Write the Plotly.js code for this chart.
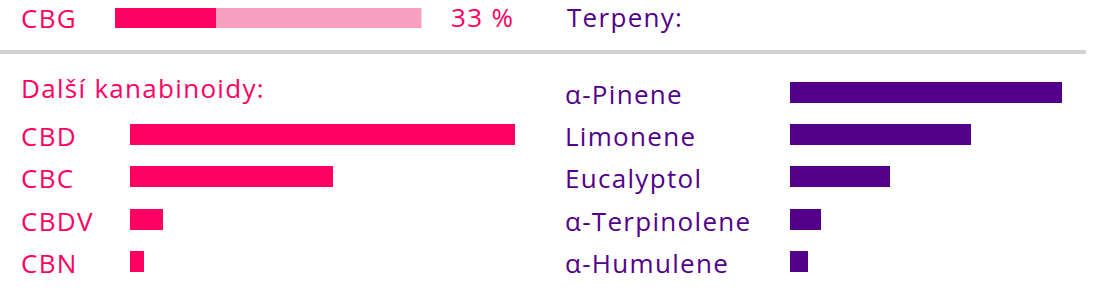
<!DOCTYPE html>
<html>
<head>
<meta charset="utf-8">
<script src="https://cdn.plot.ly/plotly-3.0.1.min.js"></script>
<style>
  html, body { margin: 0; padding: 0; background: #ffffff; }
  #chart { width: 1093px; height: 294px; }
  #chart .annotation-text { letter-spacing: 1.3px; }
</style>
</head>
<body>
<div id="chart"></div>
<script>
// CBG share
const cbgLabel = 'CBG';
const cbgShare = 33;
const cbgTotal = 100;

// Other cannabinoids (relative amounts)
const cannabinoidsTitle = 'Další kanabinoidy:';
const cannabinoids = ['CBD', 'CBC', 'CBDV', 'CBN'];
const cannabinoidValues = [100, 52.7, 8.5, 3.6];

// Terpenes (relative amounts)
const terpenesTitle = 'Terpeny:';
const terpenes = ['α-Pinene', 'Limonene', 'Eucalyptol', 'α-Terpinolene', 'α-Humulene'];
const terpeneValues = [100, 66.5, 36.8, 11.4, 6.7];

const W = 1093, H = 294;
const PINK = '#ff0062';
const PINK_LIGHT = '#f9a0c1';
const PURPLE = '#52008a';
const FONT = 'Open Sans, Noto Sans, sans-serif';
const FS = 26;

const px = v => v / W;          // horizontal pixel -> paper
const py = v => (H - v) / H;    // vertical pixel (from top) -> paper

const traces = [
  { type: 'bar', orientation: 'h', x: [cbgShare], y: [cbgLabel],
    xaxis: 'x', yaxis: 'y', width: 1, marker: { color: PINK, line: { width: 0 } } },
  { type: 'bar', orientation: 'h', x: [cbgTotal - cbgShare], y: [cbgLabel],
    xaxis: 'x', yaxis: 'y', width: 1, marker: { color: PINK_LIGHT, line: { width: 0 } } },
  { type: 'bar', orientation: 'h', x: cannabinoidValues, y: cannabinoids,
    xaxis: 'x2', yaxis: 'y2', width: 0.5, marker: { color: PINK, line: { width: 0 } } },
  { type: 'bar', orientation: 'h', x: terpeneValues, y: terpenes,
    xaxis: 'x3', yaxis: 'y3', width: 0.5, marker: { color: PURPLE, line: { width: 0 } } }
];

const hidden = { visible: false, fixedrange: true };
const rowDomain = [py(282.4), py(71.4)];

const annotations = [];
function label(text, x, y, color, yref, yshift) {
  annotations.push({
    text: text, x: x, y: y, xref: 'paper', yref: yref || 'paper',
    xanchor: 'left', yanchor: 'middle', align: 'left', showarrow: false, borderpad: 0,
    yshift: yshift || 0,
    font: { family: FONT, size: FS, color: color }
  });
}

label(cbgLabel, px(20), py(17.5), PINK);
label(cbgShare + ' %', px(450), py(16.5), PINK);
label(terpenesTitle, px(566), py(16.5), PURPLE);
label(cannabinoidsTitle, px(20), py(88.4), PINK);
cannabinoids.forEach(c => label(c, px(20), c, PINK, 'y2', -1.5));
terpenes.forEach(t => label(t, px(564), t, PURPLE, 'y3', -1.5));

const layout = {
  width: W, height: H,
  margin: { l: 0, r: 0, t: 0, b: 0, pad: 0 },
  paper_bgcolor: '#ffffff', plot_bgcolor: 'rgba(0,0,0,0)',
  showlegend: false, hovermode: false, barmode: 'stack',
  xaxis:  Object.assign({ domain: [px(115), px(421.5)], range: [0, cbgTotal], anchor: 'y' }, hidden),
  yaxis:  Object.assign({ domain: [py(28), py(8)], range: [-0.5, 0.5], type: 'category', anchor: 'x' }, hidden),
  xaxis2: Object.assign({ domain: [px(130), px(515)], range: [0, 100], anchor: 'y2' }, hidden),
  yaxis2: Object.assign({ domain: rowDomain, range: [3.5, -1.5], type: 'category',
                          categoryorder: 'array', categoryarray: cannabinoids, anchor: 'x2' }, hidden),
  xaxis3: Object.assign({ domain: [px(790), px(1062)], range: [0, 100], anchor: 'y3' }, hidden),
  yaxis3: Object.assign({ domain: rowDomain, range: [4.5, -0.5], type: 'category',
                          categoryorder: 'array', categoryarray: terpenes, anchor: 'x3' }, hidden),
  shapes: [{
    type: 'line', xref: 'paper', yref: 'paper',
    x0: 0, x1: px(1086), y0: py(52), y1: py(52),
    line: { color: '#d3d3d3', width: 4 }
  }],
  annotations: annotations
};

Plotly.newPlot('chart', traces, layout, { staticPlot: true, displayModeBar: false });
</script>
</body>
</html>
